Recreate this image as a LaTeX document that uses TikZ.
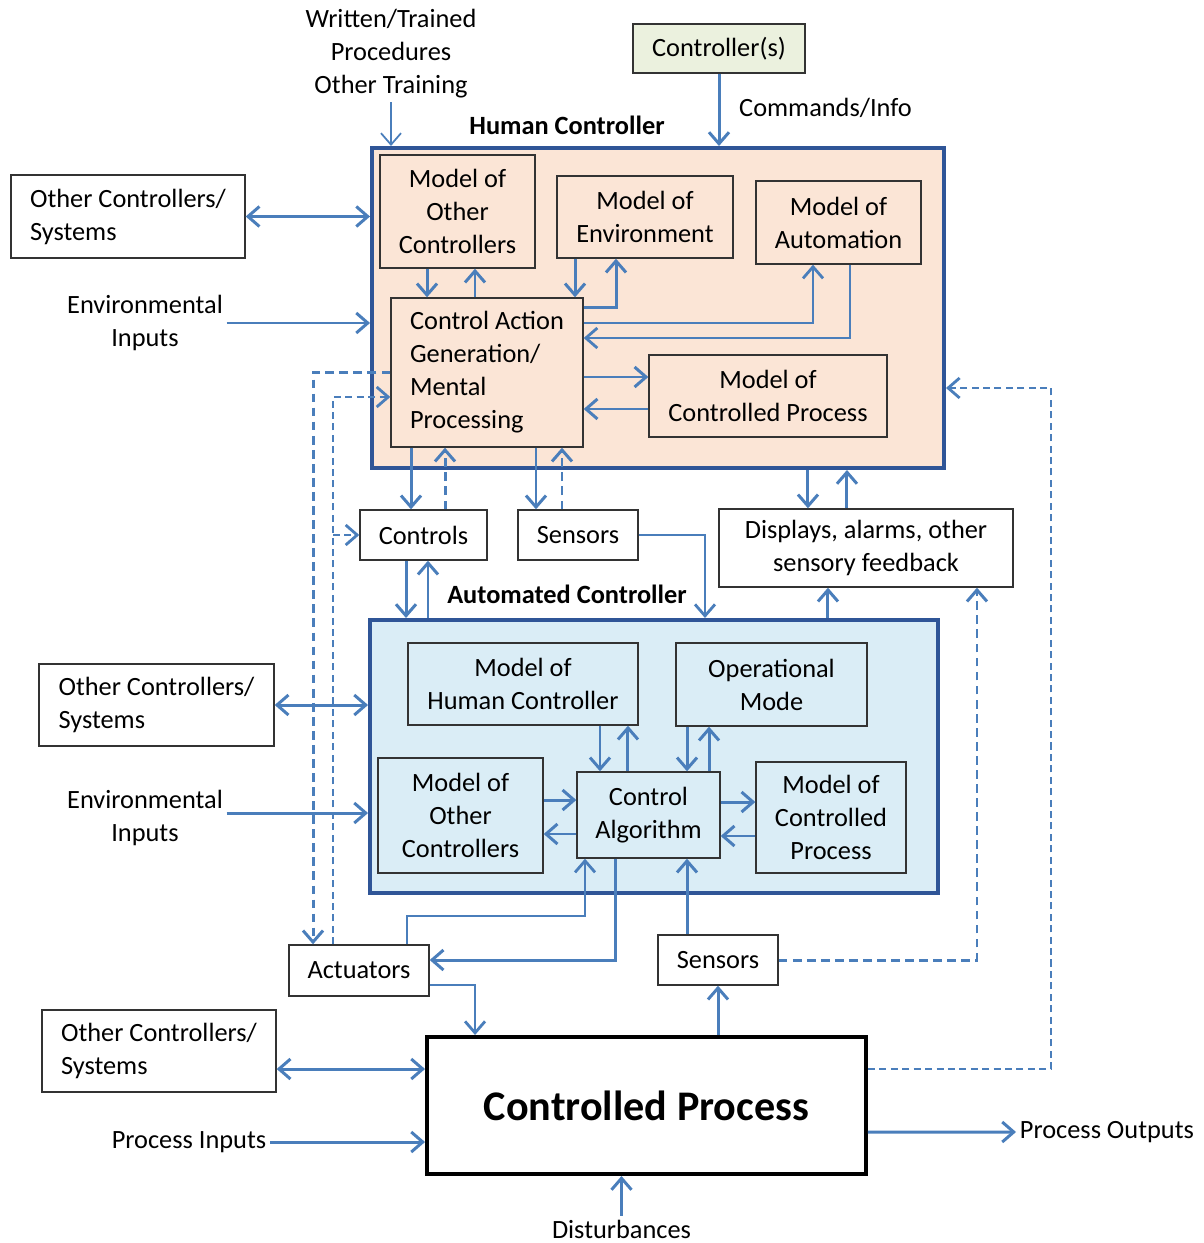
\documentclass[tikz,border=0pt]{standalone}
\usepackage{fontspec}
\setmainfont{Carlito}
\usepackage{xcolor}
\definecolor{lineblue}{RGB}{74,126,187}
\definecolor{frameblue}{RGB}{47,85,151}
\definecolor{peach}{RGB}{251,229,214}
\definecolor{paleblue}{RGB}{218,237,246}
\definecolor{palegreen}{RGB}{235,241,222}
\usepackage{tikz}
\usetikzlibrary{arrows.meta}
\newcommand{\boxfont}{\fontsize{15}{18.8}\selectfont}
\newcommand{\bigfont}{\fontsize{24}{28}\selectfont\bfseries}
\tikzset{
    txt/.style={font=\boxfont, inner sep=2pt},
    heading/.style={font=\boxfont\bfseries, inner sep=2pt},
    modelbox/.style={txt, draw=black!80, line width=0.8pt, align=center},
    ctrlframe/.style={draw=frameblue, line width=2.3pt},
    barb/.style={-{Straight Barb[length=2.3mm,width=4mm]}},
    heavybarb/.style={-{Straight Barb[length=2.3mm,width=4mm,line width=1.6pt]}},
    flow/.style={draw=lineblue, line width=1.7pt, barb},
    thinflow/.style={draw=lineblue, line width=1pt, heavybarb},
    hairflow/.style={draw=lineblue, line width=1pt, barb},
    twoway/.style={draw=lineblue, line width=1.7pt, {Straight Barb[length=2.3mm,width=4mm]}-{Straight Barb[length=2.3mm,width=4mm]}},
    feedback/.style={flow, dash pattern=on 5pt off 3pt},
    thinfeedback/.style={thinflow, dash pattern=on 4pt off 2.5pt}
}

\begin{document}
\begin{tikzpicture}[x=0.02cm, y=-0.02cm]
    \useasboundingbox (0,0) rectangle (1203,1243);

    % the two controllers
    \node[ctrlframe, fill=peach, minimum width=11.44cm, minimum height=6.4cm] (human) at (658,308) {};
    \node[ctrlframe, fill=paleblue, minimum width=11.36cm, minimum height=5.46cm] (auto) at (654,756.5) {};
    \node[heading] (humanlabel) at (567,125) {Human Controller};
    \node[heading] (autolabel) at (567,594) {Automated Controller};

    \node[modelbox, minimum width=3.1cm, minimum height=2.26cm] (hmoc) at (457.5,211.5) {Model of\\Other\\Controllers};
    \node[modelbox, minimum width=3.52cm, minimum height=1.64cm] (henv) at (645,217) {Model of\\Environment};
    \node[modelbox, minimum width=3.3cm, minimum height=1.66cm] (hauto) at (838.5,222.5) {Model of\\Automation};
    \node[modelbox, align=left, minimum width=3.84cm, minimum height=2.98cm] (cag) at (487,372.5) {Control Action\\Generation/\\Mental\\Processing};
    \node[modelbox, minimum width=4.76cm, minimum height=1.64cm] (hmcp) at (768,396) {Model of\\Controlled Process};

    \node[modelbox, minimum width=2.54cm, minimum height=1cm] (controls) at (423.5,535) {Controls};
    \node[modelbox, minimum width=2.4cm, minimum height=1cm] (hsensors) at (578,535) {Sensors};
    \node[modelbox, minimum width=5.88cm, minimum height=1.56cm] (displays) at (866,548) {Displays, alarms, other\\sensory feedback};

    \node[modelbox, minimum width=4.6cm, minimum height=1.64cm] (amhc) at (523,684) {Model of\\Human Controller};
    \node[modelbox, minimum width=3.82cm, minimum height=1.66cm] (aopmode) at (771.5,684.5) {Operational\\Mode};
    \node[modelbox, minimum width=3.3cm, minimum height=2.3cm] (amoc) at (460.5,815.5) {Model of\\Other\\Controllers};
    \node[modelbox, minimum width=2.86cm, minimum height=1.72cm] (calg) at (648.5,815) {Control\\Algorithm};
    \node[modelbox, minimum width=3cm, minimum height=2.22cm] (amcp) at (831,817.5) {Model of\\Controlled\\Process};

    \node[modelbox, minimum width=2.8cm, minimum height=1.02cm] (actuators) at (359,970.5) {Actuators};
    \node[modelbox, minimum width=2.4cm, minimum height=1cm] (lsensors) at (718,960) {Sensors};
    \node[draw=black, line width=2.3pt, minimum width=8.78cm, minimum height=2.74cm, font=\bigfont] (process) at (646.5,1105.5) {Controlled Process};

    \node[modelbox, align=left, minimum width=4.68cm, minimum height=1.66cm] (others1) at (128,216.5) {Other Controllers/\\Systems};
    \node[modelbox, align=left, minimum width=4.7cm, minimum height=1.64cm] (others2) at (156.5,705) {Other Controllers/\\Systems};
    \node[modelbox, align=left, minimum width=4.68cm, minimum height=1.64cm] (others3) at (159,1051) {Other Controllers/\\Systems};
    \node[modelbox, fill=palegreen, minimum width=3.44cm, minimum height=0.98cm] (controller) at (719,48.5) {Controller(s)};

    \node[txt, align=center] (procedures) at (391,54) {Written/Trained\\Procedures\\Other Training};
    \node[txt] (commands) at (825.5,108) {Commands/Info};
    \node[txt, align=center] (envin1) at (145,323) {Environmental\\Inputs};
    \node[txt, align=center] (envin2) at (145,818) {Environmental\\Inputs};
    \node[txt] (procin) at (189,1142) {Process Inputs};
    \node[txt, anchor=west] (procout) at (1016,1132) {Process Outputs};
    \node[txt] (disturb) at (621.5,1229) {Disturbances};

    % into the human controller
    \draw[hairflow] (procedures.south) -- (procedures.south |- human.north);
    \draw[flow] (controller.south) -- (controller.south |- human.north);
    \draw[twoway] (others1.east) -- (others1.east -| human.west);
    \draw[flow] (envin1.east) -- (envin1.east -| human.west);
    \draw[thinfeedback] ([yshift=0.73cm]process.east) -- ++(183,0) |- ([yshift=-1.6cm]human.east);

    % inside the human controller
    \draw[flow] ([xshift=-0.61cm]hmoc.south) -- ([xshift=-0.61cm]hmoc.south |- cag.north);
    \draw[flow] ([xshift=0.35cm]hmoc.south |- cag.north) -- ([xshift=0.35cm]hmoc.south);
    \draw[flow] ([xshift=-1.4cm]henv.south) -- ([xshift=-1.4cm]henv.south |- cag.north);
    \draw[flow] ([yshift=1.31cm]cag.east) -| ([xshift=-0.58cm]henv.south);
    \draw[thinflow] ([yshift=0.99cm]cag.east) -| ([xshift=-0.51cm]hauto.south);
    \draw[thinflow] ([xshift=0.23cm]hauto.south) |- ([yshift=0.69cm]cag.east);
    \draw[flow] ([yshift=-0.09cm]cag.east) -- ([yshift=-0.09cm]cag.east -| hmcp.west);
    \draw[flow] ([yshift=-0.73cm]cag.east -| hmcp.west) -- ([yshift=-0.73cm]cag.east);

    % between the controllers
    \draw[flow] ([xshift=-1.52cm]cag.south) -- ([xshift=-1.52cm]cag.south |- controls.north);
    \draw[feedback] ([xshift=-0.84cm]cag.south |- controls.north) -- ([xshift=-0.84cm]cag.south);
    \draw[flow] ([xshift=0.98cm]cag.south) -- ([xshift=0.98cm]cag.south |- hsensors.north);
    \draw[feedback] ([xshift=1.5cm]cag.south |- hsensors.north) -- ([xshift=1.5cm]cag.south);
    \draw[flow] ([xshift=3cm]human.south) -- ([xshift=3cm]human.south |- displays.north);
    \draw[flow] ([xshift=3.78cm]human.south |- displays.north) -- ([xshift=3.78cm]human.south);
    \draw[flow] ([xshift=-0.35cm]controls.south) -- ([xshift=-0.35cm]controls.south |- auto.north);
    \draw[flow] ([xshift=0.09cm]controls.south |- auto.north) -- ([xshift=0.09cm]controls.south);
    \draw[thinflow] (hsensors.east) -| ([xshift=1.02cm]auto.north);
    \draw[flow] ([xshift=3.48cm]auto.north) -- ([xshift=3.48cm]auto.north |- displays.south);
    \draw[feedback] (lsensors.east) -| ([xshift=2.22cm]displays.south);
    \draw[feedback] (cag.west) -| ([xshift=-0.92cm]actuators.north);
    \draw[thinfeedback] ([xshift=-0.52cm]actuators.north) |- ([yshift=-0.49cm]cag.west);
    \draw[thinfeedback] ([xshift=-0.52cm]actuators.north |- controls.west) -- (controls.west);

    % into the automated controller
    \draw[twoway] (others2.east) -- (others2.east -| auto.west);
    \draw[flow] ([yshift=0.1cm]envin2.east) -- ([yshift=0.1cm]envin2.east -| auto.west);

    % inside the automated controller
    \draw[flow] ([xshift=1.54cm]amhc.south) -- ([xshift=1.54cm]amhc.south |- calg.north);
    \draw[flow] ([xshift=2.1cm]amhc.south |- calg.north) -- ([xshift=2.1cm]amhc.south);
    \draw[flow] ([xshift=-1.69cm]aopmode.south) -- ([xshift=-1.69cm]aopmode.south |- calg.north);
    \draw[flow] ([xshift=-1.25cm]aopmode.south |- calg.north) -- ([xshift=-1.25cm]aopmode.south);
    \draw[flow] ([yshift=0.31cm]amoc.east) -- ([yshift=0.31cm]amoc.east -| calg.west);
    \draw[flow] ([yshift=-0.37cm]amoc.east -| calg.west) -- ([yshift=-0.37cm]amoc.east);
    \draw[flow] ([yshift=0.26cm]calg.east) -- ([yshift=0.26cm]calg.east -| amcp.west);
    \draw[flow] ([yshift=-0.42cm]calg.east -| amcp.west) -- ([yshift=-0.42cm]calg.east);

    % down to the controlled process
    \draw[thinflow] ([xshift=0.96cm]actuators.north) -- ++(0,-28) -| ([xshift=-1.27cm]calg.south);
    \draw[flow] ([xshift=-0.67cm]calg.south) |- ([yshift=0.21cm]actuators.east);
    \draw[thinflow] ([yshift=-0.29cm]actuators.east) -| ([xshift=-3.43cm]process.north);
    \draw[flow] ([xshift=-0.62cm]lsensors.north) -- ([xshift=-0.62cm]lsensors.north |- calg.south);
    \draw[flow] (process.north -| lsensors.south) -- (lsensors.south);

    \draw[twoway] ([yshift=-0.36cm]others3.east) -- ([yshift=-0.36cm]others3.east -| process.west);
    \draw[flow] (procin.east) -- (procin.east -| process.west);
    \draw[flow] ([yshift=-0.53cm]process.east) -- (procout.west);
    \draw[flow] (disturb.north) -- (disturb.north |- process.south);
\end{tikzpicture}
\end{document}
